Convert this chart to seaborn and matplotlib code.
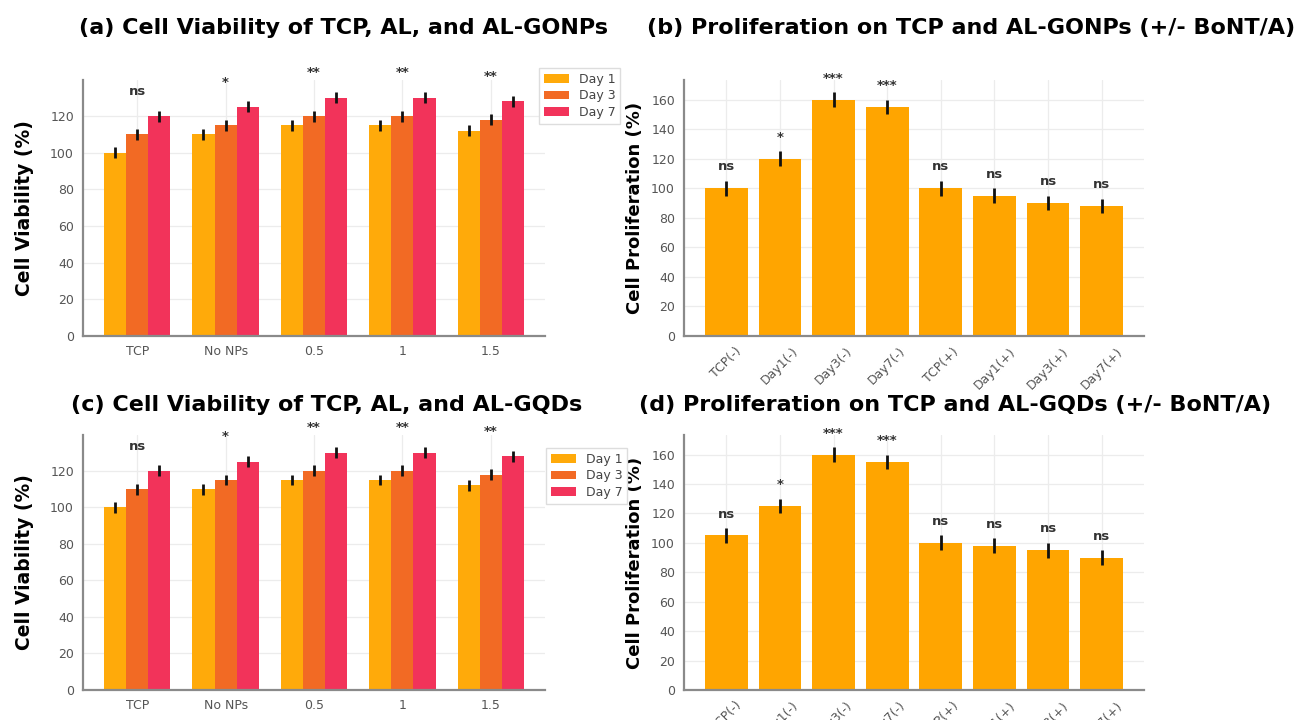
import matplotlib
matplotlib.use("Agg")
import matplotlib.pyplot as plt
from matplotlib.patches import Patch
import seaborn as sns
import pandas as pd

# ---------------- data ----------------
groups = ["TCP", "No NPs", "0.5", "1", "1.5"]
days = ["Day 1", "Day 3", "Day 7"]
day1_gonps = [100, 110, 115, 115, 112]
day3_gonps = [110, 115, 120, 120, 118]
day7_gonps = [120, 125, 130, 130, 128]
day1_gqds = [100, 110, 115, 115, 112]
day3_gqds = [110, 115, 120, 120, 118]
day7_gqds = [120, 125, 130, 130, 128]
viab_err = [3, 3, 3]
viab_sig = ["ns", "*", "**", "**", "**"]

prolif_labels = ["TCP(-)", "Day1(-)", "Day3(-)", "Day7(-)",
                 "TCP(+)", "Day1(+)", "Day3(+)", "Day7(+)"]
prolif_gonps = [100, 120, 160, 155, 100, 95, 90, 88]
prolif_gqds = [105, 125, 160, 155, 100, 98, 95, 90]
prolif_err = 5
prolif_sig = ["ns", "*", "***", "***", "ns", "ns", "ns", "ns"]

day_colors = ["#FFAA0A", "#F26A24", "#F2335A"]
prolif_color = "#FFA500"

titles = ["(a) Cell Viability of TCP, AL, and AL-GONPs",
          "(b) Proliferation on TCP and AL-GONPs (+/- BoNT/A)",
          "(c) Cell Viability of TCP, AL, and AL-GQDs",
          "(d) Proliferation on TCP and AL-GQDs (+/- BoNT/A)"]

# ---------------- style ----------------
sns.set_style("whitegrid", {
    "grid.color": "#ececec",
    "axes.edgecolor": "#8a8a8a",
    "xtick.color": "#555555",
    "ytick.color": "#555555",
})
plt.rcParams["font.family"] = ["DejaVu Sans"]
plt.rcParams["axes.linewidth"] = 1.6

W, H = 1301, 720
fig = plt.figure(figsize=(W / 100, H / 100), dpi=100)


def add_ax(left, top, right, bottom):
    return fig.add_axes([left / W, 1 - bottom / H, (right - left) / W, (bottom - top) / H])


def style_ax(ax):
    ax.grid(True, axis="both", color="#ececec", linewidth=0.9)
    ax.set_axisbelow(True)
    for s in ["top", "right"]:
        ax.spines[s].set_visible(False)
    for s in ["left", "bottom"]:
        ax.spines[s].set_color("#8a8a8a")
        ax.spines[s].set_linewidth(1.6)
    ax.tick_params(axis="both", labelsize=9, colors="#555555", length=3, width=1,
                   labelcolor="#555555")


def viability(ax, d1, d3, d7, leg_pos):
    vals = [d1, d3, d7]
    df = pd.DataFrame({
        "group": [g for _ in days for g in groups],
        "day": [d for d in days for _ in groups],
        "value": [v for series in vals for v in series],
    })
    sns.barplot(data=df, x="group", y="value", hue="day", order=groups,
                hue_order=days, palette=day_colors, width=0.75, saturation=1,
                errorbar=None, legend=False, linewidth=0, ax=ax)
    for cont, err in zip(ax.containers, viab_err):
        xs = [r.get_x() + r.get_width() / 2 for r in cont.patches]
        hs = [r.get_height() for r in cont.patches]
        ax.errorbar(xs, hs, yerr=err, fmt="none", ecolor="#111111",
                    elinewidth=2, capsize=0)
    ax.set_xlim(-0.6125, len(groups) - 1 + 0.6125)
    ax.autoscale(axis="y")
    for i, s in enumerate(viab_sig):
        ax.text(i, d7[i] + 10, s, ha="center", va="bottom", fontsize=9.5,
                fontweight="bold", color="#333333")
    style_ax(ax)
    ax.set_xlabel("")
    ax.set_ylabel("Cell Viability (%)", fontsize=13.5, fontweight="bold", color="black")
    ax.yaxis.set_label_coords(-0.105, 0.5)
    handles = [Patch(facecolor=c, edgecolor="none", label=l) for c, l in zip(day_colors, days)]
    fig.legend(handles=handles, loc="upper left",
               bbox_to_anchor=(leg_pos[0] / W, 1 - leg_pos[1] / H),
               fontsize=9, frameon=True, fancybox=False, edgecolor="#dddddd",
               labelspacing=0.3, borderpad=0.35, framealpha=1,
               labelcolor="#444444")


def proliferation(ax, vals):
    df = pd.DataFrame({"label": prolif_labels, "value": vals})
    sns.barplot(data=df, x="label", y="value", color=prolif_color, width=0.8,
                saturation=1, errorbar=None, linewidth=0, ax=ax)
    cont = ax.containers[0]
    xs = [r.get_x() + r.get_width() / 2 for r in cont.patches]
    hs = [r.get_height() for r in cont.patches]
    ax.errorbar(xs, hs, yerr=prolif_err, fmt="none", ecolor="#111111",
                elinewidth=2, capsize=0)
    ax.set_xlim(-0.79, len(prolif_labels) - 1 + 0.79)
    ax.autoscale(axis="y")
    for i, s in enumerate(prolif_sig):
        ax.text(i, vals[i] + 10, s, ha="center", va="bottom", fontsize=9.5,
                fontweight="bold", color="#333333")
    style_ax(ax)
    ax.set_xlabel("")
    ax.set_ylabel("Cell Proliferation (%)", fontsize=13, fontweight="bold", color="black")
    ax.yaxis.set_label_coords(-0.087, 0.5)
    ax.tick_params(axis="x", labelrotation=45)


ax_a = add_ax(83, 80, 545, 336)
ax_b = add_ax(684, 80, 1144, 336)
ax_c = add_ax(83, 435, 545, 690)
ax_d = add_ax(684, 435, 1144, 690)

viability(ax_a, day1_gonps, day3_gonps, day7_gonps, (533, 62))
proliferation(ax_b, prolif_gonps)
viability(ax_c, day1_gqds, day3_gqds, day7_gqds, (540, 442))
proliferation(ax_d, prolif_gqds)

title_pos = [(344, 28), (971, 28), (327, 405), (955, 405)]
for t, (x, y) in zip(titles, title_pos):
    fig.text(x / W, 1 - y / H, t, ha="center", va="center", fontsize=16,
             fontweight="bold", color="black")

fig.savefig("out.png", dpi=100)
